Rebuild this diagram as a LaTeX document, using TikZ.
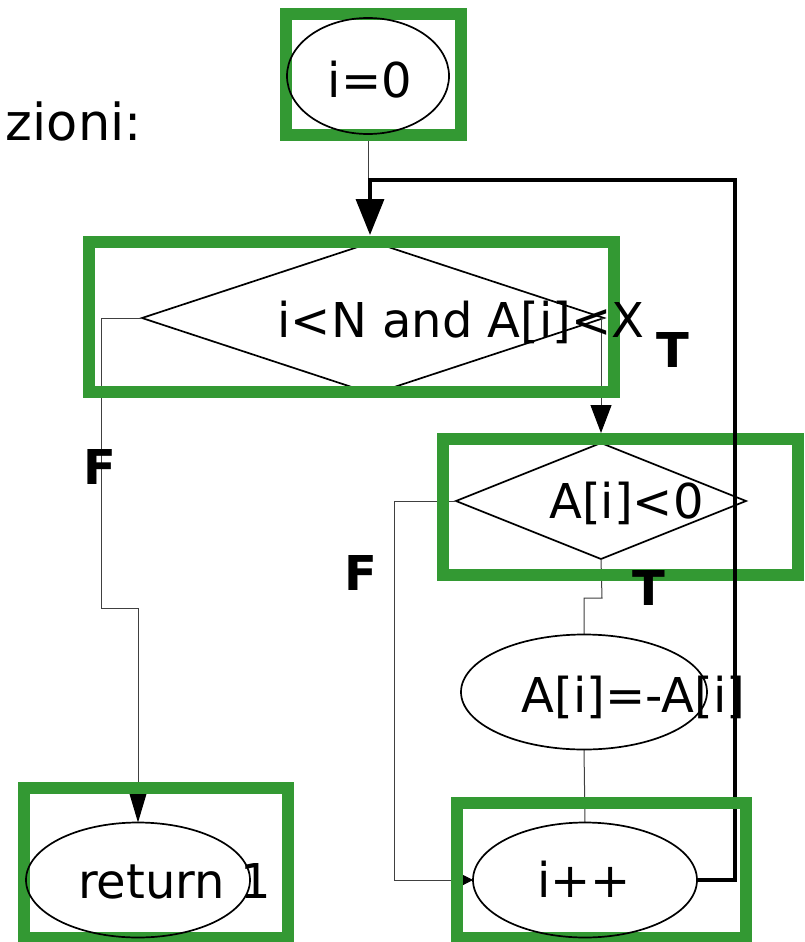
\documentclass[tikz,border=0pt]{standalone}
\usepackage{fontspec}
\setmainfont{DejaVu Sans}
\usetikzlibrary{shapes.geometric,arrows.meta}
\definecolor{boxgreen}{RGB}{51,153,51}
\pgfdeclarelayer{bgl}
\pgfdeclarelayer{boxl}
\pgfdeclarelayer{loopl}
\pgfdeclarelayer{boxh}
\pgfsetlayers{bgl,boxl,loopl,boxh,main}
\tikzset{
  oval/.style={ellipse, draw, line width=1.7pt, inner sep=0pt, outer sep=0pt},
  dmd/.style={diamond, draw, line width=1.7pt, inner sep=0pt, outer sep=0pt},
  txt/.style={font=\fontsize{48}{58}\selectfont, inner sep=0pt, anchor=base},
  lab/.style={font=\fontsize{48}{58}\selectfont\bfseries, inner sep=0pt, anchor=base},
  conn/.style={draw=black!75, line width=1pt},
  loopst/.style={draw=black, line width=3.5pt},
  gbox/.style={draw=boxgreen, line width=12pt},
}
\begin{document}
\begin{tikzpicture}[x=1pt,y=-1pt]
\useasboundingbox (0,0) rectangle (805,942);
\begin{pgfonlayer}{bgl}
  \fill[white] (0,0) rectangle (805,942);
  \node[dmd, minimum width=462pt, minimum height=152pt] (c1) at (373,318) {};
  \node[dmd, minimum width=290pt, minimum height=116pt] (c2) at (601,501) {};
\end{pgfonlayer}

% ellipses
\node[oval, minimum width=162pt, minimum height=116pt] (init) at (368,76) {};
\node[oval, minimum width=246pt, minimum height=115pt] (neg) at (584,692) {};
\node[oval, minimum width=224pt, minimum height=115pt] (incr) at (585,880) {};
\node[oval, minimum width=224pt, minimum height=115pt] (ret) at (138,880) {};

% texts
\node[txt, anchor=base east, font=\fontsize{51}{60}\selectfont] (title) at (142,140) {zioni:};
\node[txt] (initt) at (370,97) {i=0};
\node[txt] (c1t) at (461,337) {i<N and A[i]<X};
\node[txt] (c2t) at (626.5,518) {A[i]<0};
\node[txt] (negt) at (633.5,712) {A[i]=-A[i]};
\node[txt] (incrt) at (584,897) {i++};
\node[txt] (rett) at (174.5,898) {return 1};
\node[lab] (t1) at (673,367) {T};
\node[lab] (f1) at (99.5,484) {F};
\node[lab] (f2) at (361,590) {F};
\node[lab] (t2) at (649,605) {T};

\coordinate (j) at (370,180);
\coordinate (lpc) at (735,180);
\coordinate (c1top) at (370,235);
\coordinate (t1end) at (601,433);

\begin{pgfonlayer}{bgl}
  \draw[conn] (init.south) -- (init.south |- j);
  \draw[conn, -{Triangle[width=17pt,length=29pt,color=black]}] (c1.west) -| (101,608) -| (ret.north);
  \draw[conn, -{Triangle[width=21pt,length=28pt,color=black]}] (c1.east) -- (601,318) -- (t1end);
  \draw[conn, -{Triangle[width=10pt,length=10pt,color=black]}] (c2.west) -- (394,501) |- (incr.west);
  \draw[conn] (c2.south) -- (602,598) -| (neg.north);
  \draw[conn] (neg.south) -- (incr.north);
\end{pgfonlayer}

\begin{pgfonlayer}{boxl}
  \draw[gbox] (286,14) rectangle (461,135);
  \draw[gbox] (89,242) rectangle (614,392);
  \draw[gbox] (443,439) rectangle (798,575);
  \draw[gbox] (24,788) rectangle (288,938);
\end{pgfonlayer}

\begin{pgfonlayer}{loopl}
  \draw[loopst, -{Triangle[width=28pt,length=36pt]}] (incr.east) -| (lpc) -| (c1top);
\end{pgfonlayer}

\begin{pgfonlayer}{boxh}
  \draw[gbox] (457,803) rectangle (746,938);
\end{pgfonlayer}
\end{tikzpicture}
\end{document}
